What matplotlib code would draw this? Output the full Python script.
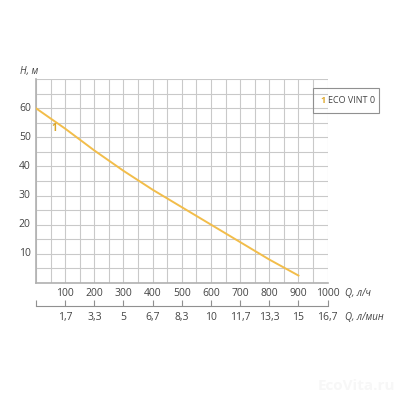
import matplotlib
matplotlib.use('Agg')
import matplotlib.pyplot as plt

plt.rcParams['font.family'] = ['Open Sans', 'DejaVu Sans']

# pump curve
q_lh = [0, 100, 200, 300, 400, 500, 600, 700, 800, 900]
h_m = [60, 53, 45.5, 38.5, 32, 26, 20, 14, 8, 2.5]

x_ticks = [100, 200, 300, 400, 500, 600, 700, 800, 900, 1000]
y_ticks = [10, 20, 30, 40, 50, 60]
lmin_pos = [0, 100, 200, 300, 400, 500, 600, 700, 800, 900, 1000]
lmin_labels = ['', '1,7', '3,3', '5', '6,7', '8,3', '10', '11,7', '13,3', '15', '16,7']

line_col = '#f2bd4a'
grid_col = '#c9c9c9'
txt_col = '#444444'

fig = plt.figure(figsize=(4, 4), dpi=100)
ax = fig.add_axes([0.09, 0.293, 0.729, 0.509])

ax.plot(q_lh, h_m, color=line_col, lw=1.4, zorder=3)
ax.text(62, 53, '1', color='#d9a62a', fontsize=7, fontweight='bold',
        ha='center', va='center', zorder=4)

ax.set_xlim(0, 1000)
ax.set_ylim(0, 70)
ax.set_xticks(range(0, 1001, 50))
ax.set_yticks(range(0, 71, 5))
ax.grid(True, color=grid_col, lw=0.8)
ax.tick_params(length=0, labelbottom=False, labelleft=False)
for s in ['top', 'right']:
    ax.spines[s].set_visible(False)
for s in ['left', 'bottom']:
    ax.spines[s].set_color('#b0b0b0')
    ax.spines[s].set_linewidth(1.2)

for v in x_ticks:
    ax.text(v, -3.8, str(v), ha='center', va='center', fontsize=7.5, color=txt_col)
for v in y_ticks:
    ax.text(-18, v, str(v), ha='right', va='center', fontsize=7.5, color=txt_col)
ax.text(-55, 72.5, 'H, м', ha='left', va='center', fontsize=7, style='italic', color=txt_col)
fig.text(0.862, 0.265, 'Q, л/ч', ha='left', va='center', fontsize=7, style='italic', color=txt_col)

# second scale in l/min
ax2 = fig.add_axes([0.09, 0.235, 0.729, 0.001])
ax2.set_xlim(0, 1000)
ax2.set_ylim(0, 1)
ax2.set_xticks(lmin_pos)
ax2.set_xticklabels(lmin_labels)
ax2.set_yticks([])
ax2.tick_params(axis='x', direction='in', length=4, width=0.8, color='#909090',
                labelsize=7.5, labelcolor=txt_col, pad=4)
for s in ['top', 'right', 'left']:
    ax2.spines[s].set_visible(False)
ax2.spines['bottom'].set_color('#909090')
ax2.spines['bottom'].set_linewidth(0.8)
ax2.patch.set_alpha(0)
fig.text(0.862, 0.207, 'Q, л/мин', ha='left', va='center', fontsize=7, style='italic', color=txt_col)

# legend box
fig.patches.append(plt.Rectangle((0.783, 0.718), 0.165, 0.062, transform=fig.transFigure,
                                 fill=False, edgecolor='#909090', lw=0.8))
fig.text(0.801, 0.749, '1', color='#e0aa30', fontsize=6.5, fontweight='bold',
         ha='left', va='center')
fig.text(0.821, 0.749, 'ECO VINT 0', color=txt_col, fontsize=6.5, ha='left', va='center')

fig.text(0.89, 0.035, 'EcoVita.ru', color='#f7f7f7', fontsize=11, ha='center', va='center',
         fontweight='bold')

fig.savefig('out.png', dpi=100)
